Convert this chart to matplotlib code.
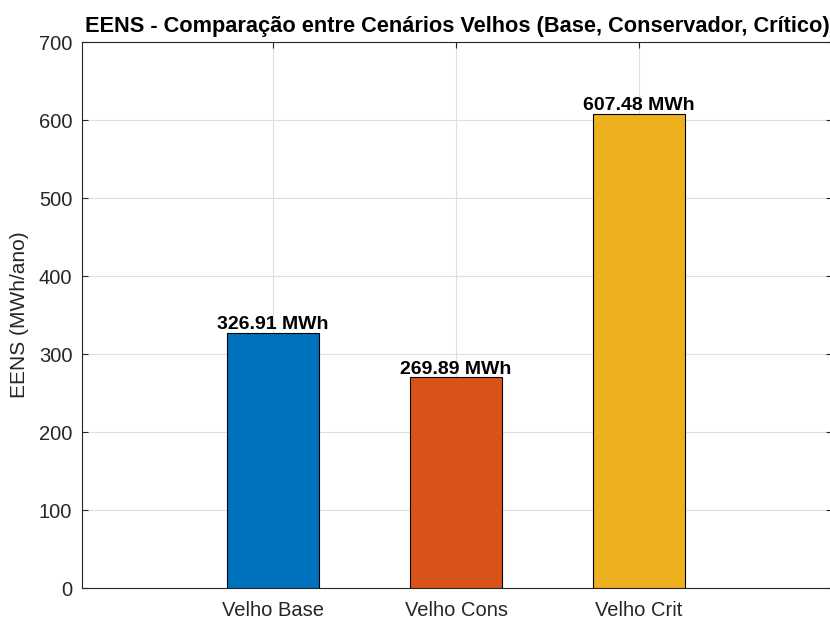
import matplotlib
matplotlib.use("Agg")
import matplotlib.pyplot as plt
import matplotlib.ticker as ticker

# ── Data ───────────────────────────────────────────────────────────────────────
CENARIOS = ["Velho Base", "Velho Cons", "Velho Crit"]
EENS     = [326.91, 269.89, 607.48]
CORES    = ["#0072BD", "#D95319", "#EDB120"]

plt.rcParams["font.family"] = ["Liberation Sans", "DejaVu Sans"]

fig = plt.figure(figsize=(8.3, 6.18), dpi=100)
# right edge of the axes sits just past the image border (as in the original)
ax = fig.add_axes([82 / 830, 1 - 588 / 618, 750 / 830, 546 / 618])

x = list(range(1, len(CENARIOS) + 1))
ax.bar(x, EENS, width=0.5, color=CORES, edgecolor="black", linewidth=0.8, zorder=3)

for xi, v in zip(x, EENS):
    ax.text(xi, v + 5, f"{v:.2f} MWh", ha="center", va="baseline",
            fontsize=14, fontweight="bold", color="black", zorder=4)

ax.set_xlim(-0.044, 4.054)
ax.set_ylim(0, 700)
ax.set_xticks(x)
ax.set_xticklabels(CENARIOS)
ax.yaxis.set_major_locator(ticker.MultipleLocator(100))
ax.tick_params(axis="both", labelsize=14.5, colors="#262626", direction="in",
               length=4, width=0.8, top=True, right=True, pad=7)
ax.tick_params(axis="x", pad=9)
ax.grid(True, color="#DFDFDF", lw=0.8, zorder=0)

for spine in ax.spines.values():
    spine.set_edgecolor("#262626")
    spine.set_linewidth(0.8)

ax.set_ylabel("EENS (MWh/ano)", fontsize=15, color="#262626", labelpad=7)
ax.set_title("EENS - Comparação entre Cenários Velhos (Base, Conservador, Crítico)",
             fontsize=15.7, fontweight="bold", color="black", pad=7)

fig.savefig("out.png", dpi=100)
